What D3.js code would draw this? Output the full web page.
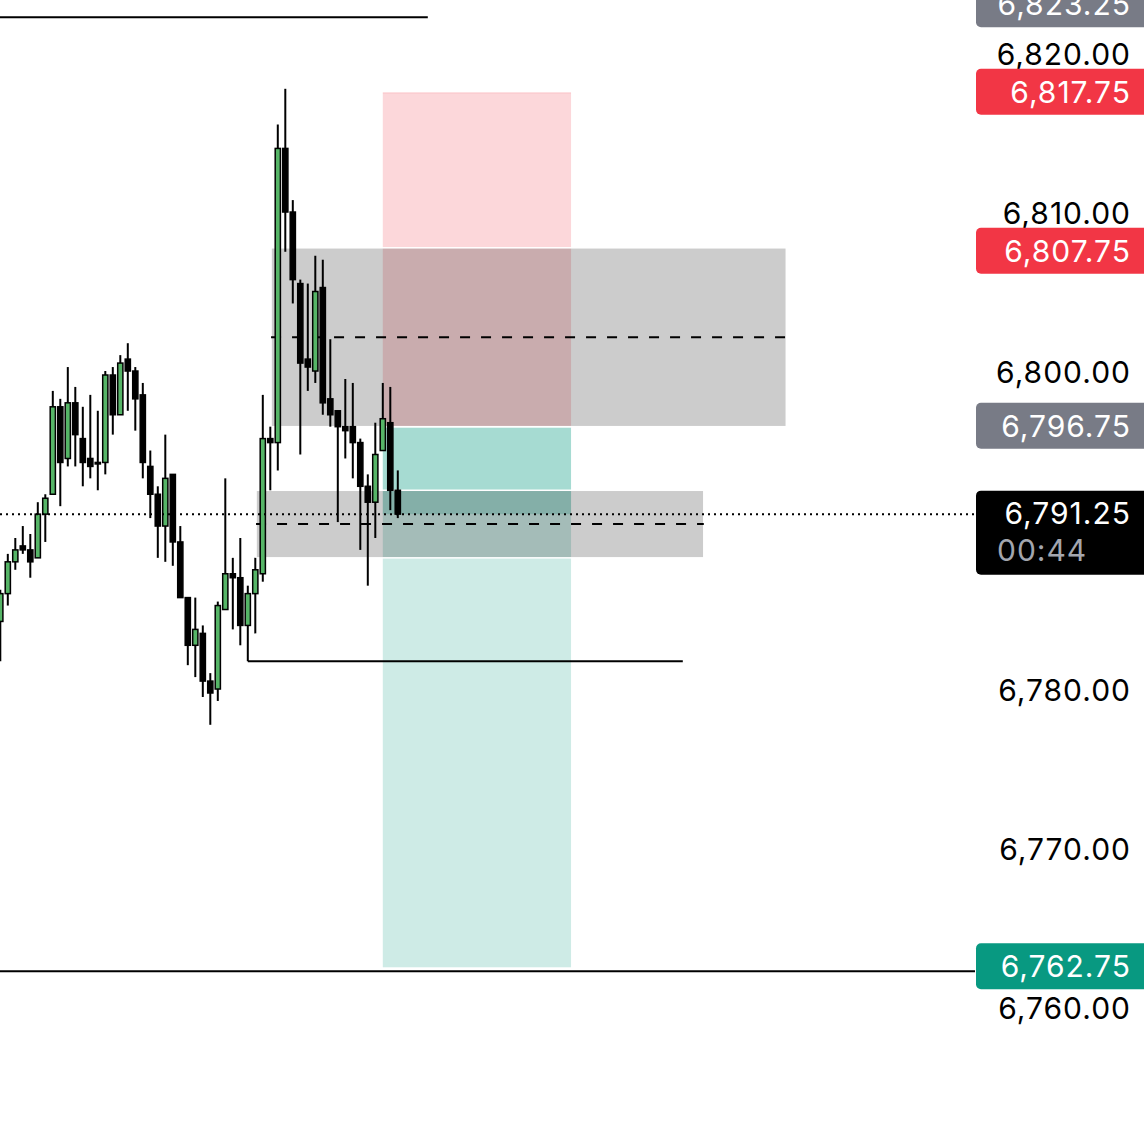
<!DOCTYPE html>
<html>
<head>
<meta charset="utf-8">
<script src="https://cdn.jsdelivr.net/npm/d3@7"></script>
<style>
  html, body { margin: 0; padding: 0; background: #ffffff; }
  svg { display: block; }
</style>
</head>
<body>
<svg id="chart" width="1144" height="1126"></svg>
<script>
// ---------- DATA ----------
const opens  = [6784.5,6786.25,6788.25,6789.25,6789,6788.5,6791.25,6792.5,6798,6794.75,6798.25,6796,6794.75,6794.5,6794.5,6800,6797.5,6801,6800.25,6798.75,6794.25,6792.5,6790.5,6793.75,6789.5,6786,6783,6783.75,6780.75,6780.25,6785.25,6787.5,6787.25,6784.25,6786.25,6787.5,6796,6795.75,6814.25,6810.25,6805.75,6801,6800.25,6805.5,6798.5,6797.75,6796.75,6796.75,6795.75,6793,6792,6795.25,6797,6792.75];
const highs  = [6786.5,6788.75,6789.75,6790.5,6790,6792,6792.5,6799,6798.5,6800.5,6799.25,6798,6798.75,6797.75,6800.25,6800.5,6801.25,6802,6800.5,6799.5,6795.25,6793,6796.25,6793.75,6790.5,6786,6786,6784.25,6781.25,6785.75,6793.5,6788.5,6789.75,6786.75,6788.5,6798.75,6796.75,6815.75,6818,6811,6806,6805.75,6807.5,6807.25,6802.25,6797.75,6799.75,6799.5,6796,6793.75,6797,6799.5,6799.25,6794];
const lows   = [6782,6785.5,6787.75,6788.75,6787.25,6788.5,6789.5,6792.5,6791.75,6794.25,6794.25,6793,6793.5,6792.75,6793.75,6796.25,6797.5,6797.75,6796.5,6793.5,6791,6788.5,6788.25,6788,6786,6781.75,6781,6779.75,6778,6779.5,6785.25,6784,6783,6782,6783.75,6787,6792.75,6794,6807.75,6804.5,6795,6799,6799.5,6797.5,6796.75,6790.75,6794.75,6793.5,6789,6786.75,6789.75,6795.25,6791.5,6791];
const closes = [6786.25,6788.25,6789,6789,6788.25,6791.25,6792.25,6798,6794.5,6798.25,6796.25,6794.5,6794.25,6794.5,6800,6797.5,6800.75,6800.25,6798.5,6794.5,6792.5,6790.5,6793.5,6789.5,6786,6783,6784,6780.75,6780,6785.5,6787.5,6787.25,6784.25,6786.25,6787.75,6796,6795.75,6814.25,6810.25,6806,6800.75,6800.5,6805.25,6798.25,6797.5,6796.75,6796.5,6795.75,6793,6792,6795,6797.25,6792.75,6791.25];

const priceDomain = [6760, 6820];
const tickValues  = [6760, 6770, 6780, 6800, 6810, 6820];

// horizontal drawn levels: price, bar start, bar end
const levelPrices = [6822.5, 6782, 6762.5];
const levelStarts = [-1, 33, -1];
const levelEnds   = [57, 91, 130];

// grey rectangles (zones): top price, bottom price, bar start, bar end
const zoneTops    = [6808, 6792.75];
const zoneBottoms = [6796.75, 6788.5];
const zoneStarts  = [36.1, 34.1];
const zoneEnds    = [104.8, 93.8];

// long position tool
const stopPrice   = 6817.75;
const entryPrice  = 6796.75;
const targetPrice = 6762.75;
const positionStart = 51;
const positionEnd   = 76.1;

const lastPrice = 6791.25;
const countdown = "00:44";

// price-axis labels
const labelPrices = [6823.25, 6817.75, 6807.75, 6796.75, 6762.75];
const labelKinds  = ["grey", "red", "red", "grey", "green"];

// ---------- DRAW ----------
const W = 1144, H = 1126, plotRight = 975;
const svg = d3.select("#chart");
svg.append("rect").attr("width", W).attr("height", H).attr("fill", "#fff");

const y = d3.scaleLinear().domain(priceDomain).range([57 + 60 * 15.9, 57]);
const x = d3.scaleLinear().domain([0, 130]).range([0.3, 975.3]);
const fmt = d3.format(",.2f");

svg.append("defs").append("clipPath").attr("id", "plotClip")
  .append("rect").attr("x", 0).attr("y", 0).attr("width", plotRight).attr("height", H);

const plot = svg.append("g").attr("clip-path", "url(#plotClip)");

const colors = {
  grey: "#787b86", red: "#f23645", green: "#089981",
  stopFill: "rgba(242,54,69,0.2)", targetFill: "rgba(8,153,129,0.2)",
  zoneFill: "rgba(0,0,0,0.2)", bull: "#56b567"
};

// position tool
const px0 = x(positionStart), px1 = x(positionEnd);
plot.append("rect").attr("x", px0).attr("width", px1 - px0)
  .attr("y", y(stopPrice)).attr("height", y(entryPrice) - y(stopPrice))
  .attr("fill", colors.stopFill);
plot.append("line").attr("x1", px0).attr("x2", px1)
  .attr("y1", y(stopPrice)).attr("y2", y(stopPrice))
  .attr("stroke", "rgba(242,54,69,0.12)").attr("stroke-width", 1.5);
plot.append("rect").attr("x", px0).attr("width", px1 - px0)
  .attr("y", y(entryPrice)).attr("height", y(targetPrice) - y(entryPrice))
  .attr("fill", colors.targetFill);
plot.append("rect").attr("x", px0).attr("width", px1 - px0)
  .attr("y", y(entryPrice)).attr("height", y(lastPrice) - y(entryPrice))
  .attr("fill", colors.targetFill);
plot.append("line").attr("x1", px0).attr("x2", px1)
  .attr("y1", y(entryPrice)).attr("y2", y(entryPrice))
  .attr("stroke", "#fff").attr("stroke-width", 1.5);

// grey zones
zoneTops.forEach((t, i) => {
  const b = zoneBottoms[i];
  const zx0 = x(zoneStarts[i]), zx1 = x(zoneEnds[i]);
  plot.append("rect").attr("x", zx0).attr("width", zx1 - zx0)
    .attr("y", y(t)).attr("height", y(b) - y(t))
    .attr("fill", colors.zoneFill).attr("stroke", "#fff").attr("stroke-width", 1.5);
  const mid = (t + b) / 2;
  plot.append("line").attr("x1", zx0).attr("x2", zx1)
    .attr("y1", y(mid)).attr("y2", y(mid))
    .attr("stroke", "#000").attr("stroke-width", 2).attr("stroke-dasharray", "10,11");
});

// horizontal levels
levelPrices.forEach((p, i) => {
  plot.append("line").attr("x1", x(levelStarts[i])).attr("x2", x(levelEnds[i]))
    .attr("y1", y(p)).attr("y2", y(p))
    .attr("stroke", "#000").attr("stroke-width", 2);
});

// current price dotted line
svg.append("line").attr("x1", 0).attr("x2", plotRight + 2)
  .attr("y1", y(lastPrice)).attr("y2", y(lastPrice))
  .attr("stroke", "#000").attr("stroke-width", 2).attr("stroke-dasharray", "2,4");

// candles
const candles = opens.map((o, i) => ({ i, o, h: highs[i], l: lows[i], c: closes[i] }));
const cg = plot.append("g");
cg.selectAll("line.wick").data(candles).join("line")
  .attr("class", "wick")
  .attr("x1", d => x(d.i)).attr("x2", d => x(d.i))
  .attr("y1", d => y(d.h)).attr("y2", d => y(d.l))
  .attr("stroke", "#000").attr("stroke-width", 2);
cg.selectAll("rect.body").data(candles).join("rect")
  .attr("class", "body")
  .attr("x", d => x(d.i) - 2.6).attr("width", 5.2)
  .attr("y", d => y(Math.max(d.o, d.c)))
  .attr("height", d => Math.max(1.5, Math.abs(y(d.o) - y(d.c))))
  .attr("fill", d => d.c > d.o ? colors.bull : "#000")
  .attr("stroke", "#000").attr("stroke-width", 1.5);

// axis tick labels
const font = "Inter, 'Noto Sans', sans-serif";
const textRight = 1131;
const spacing = 1;
svg.append("g").selectAll("text").data(tickValues).join("text")
  .attr("x", textRight).attr("y", d => y(d) + 8)
  .attr("text-anchor", "end")
  .attr("font-family", font).attr("font-size", 30)
  .attr("letter-spacing", spacing)
  .attr("fill", "#000")
  .text(d => fmt(d));

// colored price labels
const boxH = 46, boxX = 976;
labelPrices.forEach((p, i) => {
  const cy = y(p) - 1;
  svg.append("rect").attr("x", boxX).attr("y", cy - boxH / 2)
    .attr("width", W - boxX + 6).attr("height", boxH).attr("rx", 5)
    .attr("fill", colors[labelKinds[i]]);
  svg.append("text").attr("x", textRight).attr("y", cy + 11)
    .attr("text-anchor", "end")
    .attr("font-family", font).attr("font-size", 30).attr("fill", "#fff")
    .attr("letter-spacing", spacing)
    .text(fmt(p));
});

// last price label with countdown
const ly = y(lastPrice);
svg.append("rect").attr("x", boxX).attr("y", ly - 23.5)
  .attr("width", W - boxX + 6).attr("height", 84).attr("rx", 5).attr("fill", "#000");
svg.append("text").attr("x", textRight).attr("y", ly + 10)
  .attr("text-anchor", "end")
  .attr("font-family", font).attr("font-size", 30).attr("fill", "#fff")
  .attr("letter-spacing", spacing)
  .text(fmt(lastPrice));
svg.append("text").attr("x", 997).attr("y", ly + 47)
  .attr("text-anchor", "start")
  .attr("font-family", font).attr("font-size", 30).attr("fill", "#a3a6ae")
  .attr("letter-spacing", spacing)
  .text(countdown);
</script>
</body>
</html>
